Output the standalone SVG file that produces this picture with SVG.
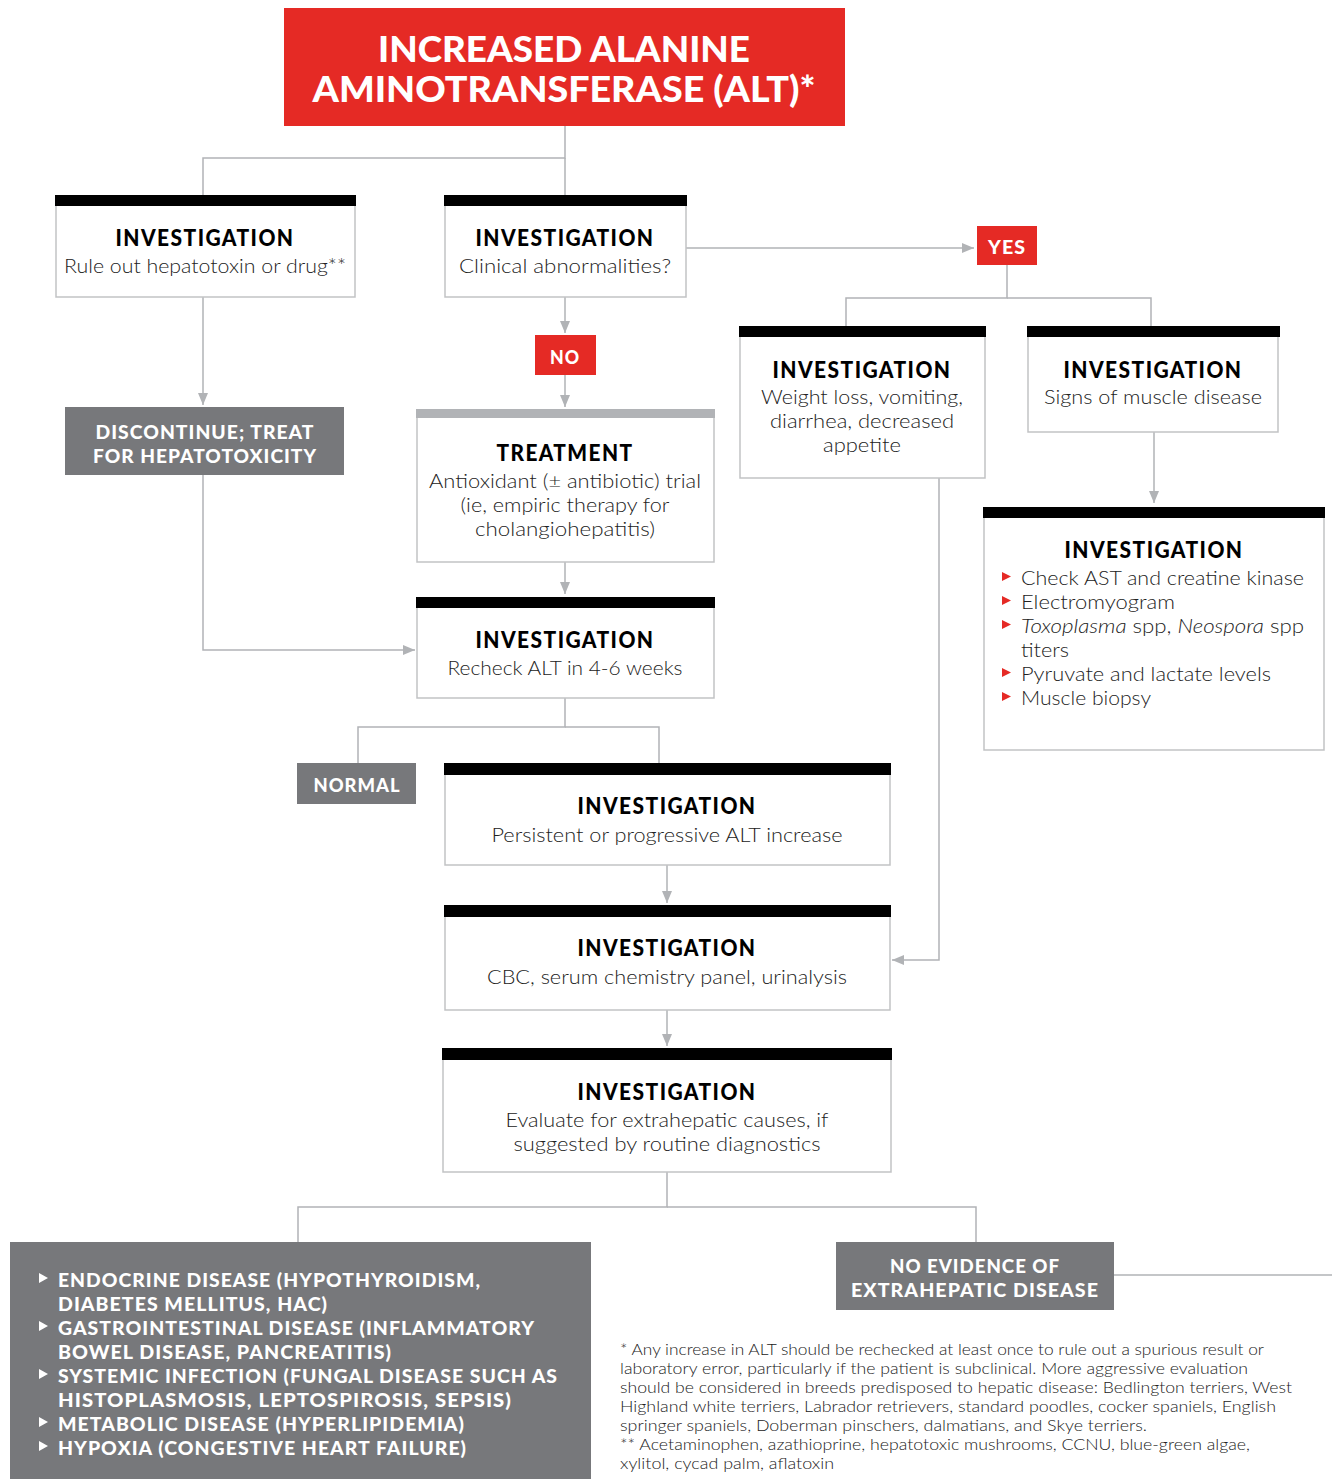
<svg xmlns="http://www.w3.org/2000/svg" width="1332" height="1479" viewBox="0 0 1332 1479">
<defs>
<marker id="arr" markerWidth="12" markerHeight="10" refX="12" refY="5" orient="auto" markerUnits="userSpaceOnUse">
<path d="M0,0 L12,5 L0,10 Z" fill="#b1b3b6"/>
</marker>
<style>
.bg{fill:#ffffff}
.box{fill:#ffffff;stroke:#c2c3c5;stroke-width:1.5}
.bar{fill:#000000}
.gbar{fill:#b1b3b6}
.red{fill:#e52a25}
.gray{fill:#77787b}
.conn{fill:none;stroke:#b1b3b6;stroke-width:1.5}
.h{font-family:Lato,"Noto Sans","Liberation Sans",sans-serif;font-weight:900;font-size:22px;fill:#000;text-anchor:middle;letter-spacing:1.5px}
.s{font-family:Lato,"Noto Sans","Liberation Sans",sans-serif;font-weight:300;font-size:19px;fill:#222;text-anchor:middle}
.sl{font-family:Lato,"Noto Sans","Liberation Sans",sans-serif;font-weight:300;font-size:19px;fill:#222}
.w{font-family:Lato,"Noto Sans","Liberation Sans",sans-serif;font-weight:900;font-size:19px;fill:#fff;text-anchor:middle;letter-spacing:1px}
.wl{font-family:Lato,"Noto Sans","Liberation Sans",sans-serif;font-weight:900;font-size:19px;fill:#fff;letter-spacing:1px}
.t{font-family:Lato,"Noto Sans","Liberation Sans",sans-serif;font-weight:900;font-size:36px;fill:#fff;text-anchor:middle}
.fn{font-family:Lato,"Noto Sans","Liberation Sans",sans-serif;font-weight:300;font-size:15.5px;fill:#222}
.rb{fill:#e52a25}
.wb{fill:#ffffff}
</style>
</defs>
<rect class="bg" x="0" y="0" width="1332" height="1479"/>

<g id="connectors">
<path class="conn" d="M565,126 V158 H203 V195"/>
<path class="conn" d="M565,158 V195"/>
<path class="conn" d="M686,248 H974" marker-end="url(#arr)"/>
<path class="conn" d="M1007,265 V298 H846 V326"/>
<path class="conn" d="M1007,298 H1151 V326"/>
<path class="conn" d="M1154,432 V503" marker-end="url(#arr)"/>
<path class="conn" d="M939,478 V960 H892" marker-end="url(#arr)"/>
<path class="conn" d="M565,297 V333" marker-end="url(#arr)"/>
<path class="conn" d="M565,375 V407" marker-end="url(#arr)"/>
<path class="conn" d="M565,562 V594" marker-end="url(#arr)"/>
<path class="conn" d="M203,297 V405" marker-end="url(#arr)"/>
<path class="conn" d="M203,475 V650 H415" marker-end="url(#arr)"/>
<path class="conn" d="M565,698 V727 H358 V763"/>
<path class="conn" d="M565,727 H659 V763"/>
<path class="conn" d="M667,865 V903" marker-end="url(#arr)"/>
<path class="conn" d="M667,1010 V1046" marker-end="url(#arr)"/>
<path class="conn" d="M667,1172 V1207 H298 V1242"/>
<path class="conn" d="M667,1207 H976 V1242"/>
<path class="conn" d="M1114,1275 H1332"/>
</g>

<g id="title">
<rect class="red" x="284" y="8" width="561" height="118"/>
<text class="t" x="564" y="62" textLength="372" lengthAdjust="spacingAndGlyphs">INCREASED ALANINE</text>
<text class="t" x="564" y="102" textLength="503" lengthAdjust="spacingAndGlyphs">AMINOTRANSFERASE (ALT)*</text>
</g>

<g id="node-hepatotoxin">
<rect class="box" x="56" y="200" width="299" height="97"/>
<rect class="bar" x="55" y="195" width="301" height="11"/>
<text class="h" x="205" y="246" textLength="179" lengthAdjust="spacingAndGlyphs">INVESTIGATION</text>
<text class="s" x="205" y="273" textLength="282" lengthAdjust="spacingAndGlyphs">Rule out hepatotoxin or drug**</text>
</g>

<g id="node-clinical">
<rect class="box" x="445" y="200" width="241" height="97"/>
<rect class="bar" x="444" y="195" width="243" height="11"/>
<text class="h" x="565" y="246" textLength="179" lengthAdjust="spacingAndGlyphs">INVESTIGATION</text>
<text class="s" x="565" y="273" textLength="212" lengthAdjust="spacingAndGlyphs">Clinical abnormalities?</text>
</g>

<g id="yes">
<rect class="red" x="977" y="226" width="60" height="39"/>
<text class="w" x="1007" y="254" textLength="38" lengthAdjust="spacingAndGlyphs">YES</text>
</g>

<g id="no">
<rect class="red" x="535" y="335" width="61" height="40"/>
<text class="w" x="565" y="364" textLength="30" lengthAdjust="spacingAndGlyphs">NO</text>
</g>

<g id="node-weight">
<rect class="box" x="740" y="331" width="245" height="147"/>
<rect class="bar" x="739" y="326" width="247" height="11"/>
<text class="h" x="862" y="378" textLength="179" lengthAdjust="spacingAndGlyphs">INVESTIGATION</text>
<text class="s" x="862" y="404" textLength="202" lengthAdjust="spacingAndGlyphs">Weight loss, vomiting,</text>
<text class="s" x="862" y="428" textLength="184" lengthAdjust="spacingAndGlyphs">diarrhea, decreased</text>
<text class="s" x="862" y="452" textLength="78" lengthAdjust="spacingAndGlyphs">appetite</text>
</g>

<g id="node-muscle">
<rect class="box" x="1028" y="331" width="250" height="101"/>
<rect class="bar" x="1027" y="326" width="253" height="11"/>
<text class="h" x="1153" y="378" textLength="179" lengthAdjust="spacingAndGlyphs">INVESTIGATION</text>
<text class="s" x="1153" y="404" textLength="218" lengthAdjust="spacingAndGlyphs">Signs of muscle disease</text>
</g>

<g id="node-muscle-tests">
<rect class="box" x="984" y="512" width="340" height="238"/>
<rect class="bar" x="983" y="507" width="342" height="11"/>
<text class="h" x="1154" y="558" textLength="179" lengthAdjust="spacingAndGlyphs">INVESTIGATION</text>
<path class="rb" d="M1002,572 L1011,576.5 L1002,581 Z"/>
<text class="sl" x="1021" y="585" textLength="283" lengthAdjust="spacingAndGlyphs">Check AST and creatine kinase</text>
<path class="rb" d="M1002,596 L1011,600.5 L1002,605 Z"/>
<text class="sl" x="1021" y="609" textLength="154" lengthAdjust="spacingAndGlyphs">Electromyogram</text>
<path class="rb" d="M1002,620 L1011,624.5 L1002,629 Z"/>
<text class="sl" x="1021" y="633" textLength="283" lengthAdjust="spacingAndGlyphs"><tspan font-style="italic">Toxoplasma</tspan> spp, <tspan font-style="italic">Neospora</tspan> spp</text>
<text class="sl" x="1021" y="657" textLength="48" lengthAdjust="spacingAndGlyphs">titers</text>
<path class="rb" d="M1002,668 L1011,672.5 L1002,677 Z"/>
<text class="sl" x="1021" y="681" textLength="250" lengthAdjust="spacingAndGlyphs">Pyruvate and lactate levels</text>
<path class="rb" d="M1002,692 L1011,696.5 L1002,701 Z"/>
<text class="sl" x="1021" y="705" textLength="130" lengthAdjust="spacingAndGlyphs">Muscle biopsy</text>
</g>

<g id="discontinue">
<rect class="gray" x="65" y="407" width="279" height="68"/>
<text class="w" x="205" y="439" textLength="219" lengthAdjust="spacingAndGlyphs">DISCONTINUE; TREAT</text>
<text class="w" x="205" y="463" textLength="224" lengthAdjust="spacingAndGlyphs">FOR HEPATOTOXICITY</text>
</g>

<g id="node-treatment">
<rect class="box" x="417" y="413" width="297" height="149"/>
<rect class="gbar" x="416" y="409" width="299" height="9"/>
<text class="h" x="565" y="461" textLength="137" lengthAdjust="spacingAndGlyphs">TREATMENT</text>
<text class="s" x="565" y="488" textLength="272" lengthAdjust="spacingAndGlyphs">Antioxidant (± antibiotic) trial</text>
<text class="s" x="565" y="512" textLength="209" lengthAdjust="spacingAndGlyphs">(ie, empiric therapy for</text>
<text class="s" x="565" y="536" textLength="180" lengthAdjust="spacingAndGlyphs">cholangiohepatitis)</text>
</g>

<g id="node-recheck">
<rect class="box" x="417" y="602" width="297" height="96"/>
<rect class="bar" x="416" y="597" width="299" height="11"/>
<text class="h" x="565" y="648" textLength="179" lengthAdjust="spacingAndGlyphs">INVESTIGATION</text>
<text class="s" x="565" y="675" textLength="235" lengthAdjust="spacingAndGlyphs">Recheck ALT in 4-6 weeks</text>
</g>

<g id="normal">
<rect class="gray" x="297" y="763" width="119" height="41"/>
<text class="w" x="357" y="792" textLength="87" lengthAdjust="spacingAndGlyphs">NORMAL</text>
</g>

<g id="node-persistent">
<rect class="box" x="445" y="768" width="445" height="97"/>
<rect class="bar" x="444" y="763" width="447" height="12"/>
<text class="h" x="667" y="814" textLength="179" lengthAdjust="spacingAndGlyphs">INVESTIGATION</text>
<text class="s" x="667" y="842" textLength="351" lengthAdjust="spacingAndGlyphs">Persistent or progressive ALT increase</text>
</g>

<g id="node-cbc">
<rect class="box" x="445" y="910" width="445" height="100"/>
<rect class="bar" x="444" y="905" width="447" height="12"/>
<text class="h" x="667" y="956" textLength="179" lengthAdjust="spacingAndGlyphs">INVESTIGATION</text>
<text class="s" x="667" y="984" textLength="360" lengthAdjust="spacingAndGlyphs">CBC, serum chemistry panel, urinalysis</text>
</g>

<g id="node-extrahepatic">
<rect class="box" x="443" y="1053" width="448" height="119"/>
<rect class="bar" x="442" y="1048" width="450" height="12"/>
<text class="h" x="667" y="1100" textLength="179" lengthAdjust="spacingAndGlyphs">INVESTIGATION</text>
<text class="s" x="667" y="1127" textLength="323" lengthAdjust="spacingAndGlyphs">Evaluate for extrahepatic causes, if</text>
<text class="s" x="667" y="1151" textLength="307" lengthAdjust="spacingAndGlyphs">suggested by routine diagnostics</text>
</g>

<g id="extrahepatic-list">
<rect class="gray" x="10" y="1242" width="581" height="237"/>
<path class="wb" d="M39,1273 L48,1278 L39,1283 Z"/>
<text class="wl" x="58" y="1287" textLength="423" lengthAdjust="spacingAndGlyphs">ENDOCRINE DISEASE (HYPOTHYROIDISM,</text>
<text class="wl" x="58" y="1311" textLength="270" lengthAdjust="spacingAndGlyphs">DIABETES MELLITUS, HAC)</text>
<path class="wb" d="M39,1321 L48,1326 L39,1331 Z"/>
<text class="wl" x="58" y="1335" textLength="477" lengthAdjust="spacingAndGlyphs">GASTROINTESTINAL DISEASE (INFLAMMATORY</text>
<text class="wl" x="58" y="1359" textLength="334" lengthAdjust="spacingAndGlyphs">BOWEL DISEASE, PANCREATITIS)</text>
<path class="wb" d="M39,1369 L48,1374 L39,1379 Z"/>
<text class="wl" x="58" y="1383" textLength="500" lengthAdjust="spacingAndGlyphs">SYSTEMIC INFECTION (FUNGAL DISEASE SUCH AS</text>
<text class="wl" x="58" y="1407" textLength="454" lengthAdjust="spacingAndGlyphs">HISTOPLASMOSIS, LEPTOSPIROSIS, SEPSIS)</text>
<path class="wb" d="M39,1417 L48,1422 L39,1427 Z"/>
<text class="wl" x="58" y="1431" textLength="407" lengthAdjust="spacingAndGlyphs">METABOLIC DISEASE (HYPERLIPIDEMIA)</text>
<path class="wb" d="M39,1441 L48,1446 L39,1451 Z"/>
<text class="wl" x="58" y="1455" textLength="409" lengthAdjust="spacingAndGlyphs">HYPOXIA (CONGESTIVE HEART FAILURE)</text>
</g>

<g id="no-evidence">
<rect class="gray" x="836" y="1242" width="278" height="68"/>
<text class="w" x="975" y="1273" textLength="170" lengthAdjust="spacingAndGlyphs">NO EVIDENCE OF</text>
<text class="w" x="975" y="1297" textLength="248" lengthAdjust="spacingAndGlyphs">EXTRAHEPATIC DISEASE</text>
</g>

<g id="footnotes">
<text class="fn" x="620" y="1355" textLength="644" lengthAdjust="spacingAndGlyphs">* Any increase in ALT should be rechecked at least once to rule out a spurious result or</text>
<text class="fn" x="620" y="1374" textLength="628" lengthAdjust="spacingAndGlyphs">laboratory error, particularly if the patient is subclinical. More aggressive evaluation</text>
<text class="fn" x="620" y="1393" textLength="672" lengthAdjust="spacingAndGlyphs">should be considered in breeds predisposed to hepatic disease: Bedlington terriers, West</text>
<text class="fn" x="620" y="1412" textLength="656" lengthAdjust="spacingAndGlyphs">Highland white terriers, Labrador retrievers, standard poodles, cocker spaniels, English</text>
<text class="fn" x="620" y="1431" textLength="527" lengthAdjust="spacingAndGlyphs">springer spaniels, Doberman pinschers, dalmatians, and Skye terriers.</text>
<text class="fn" x="620" y="1450" textLength="630" lengthAdjust="spacingAndGlyphs">** Acetaminophen, azathioprine, hepatotoxic mushrooms, CCNU, blue-green algae,</text>
<text class="fn" x="620" y="1469" textLength="214" lengthAdjust="spacingAndGlyphs">xylitol, cycad palm, aflatoxin</text>
</g>
</svg>
